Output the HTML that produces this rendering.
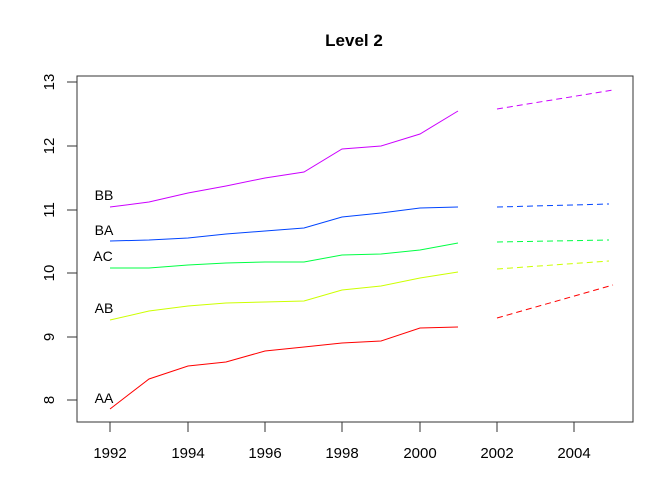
<!DOCTYPE html>
<html><head><style>body{margin:0;background:#fff}svg{display:block}</style></head><body>
<svg width="672" height="480" xmlns="http://www.w3.org/2000/svg" font-family="Liberation Sans, Arial, sans-serif">
<rect width="672" height="480" fill="#fff"/>
<text x="354" y="46" font-size="17" font-weight="bold" text-anchor="middle">Level 2</text>
<rect x="77" y="76" width="556" height="346" fill="none" stroke="#333" stroke-width="1"/>
<g stroke="#333" stroke-width="1">
<line x1="110" y1="422" x2="110" y2="432"/><line x1="188" y1="422" x2="188" y2="432"/><line x1="265" y1="422" x2="265" y2="432"/><line x1="342" y1="422" x2="342" y2="432"/><line x1="420" y1="422" x2="420" y2="432"/><line x1="497" y1="422" x2="497" y2="432"/><line x1="574" y1="422" x2="574" y2="432"/>
<line x1="67" y1="82" x2="77" y2="82"/><line x1="67" y1="146" x2="77" y2="146"/><line x1="67" y1="210" x2="77" y2="210"/><line x1="67" y1="273" x2="77" y2="273"/><line x1="67" y1="337" x2="77" y2="337"/><line x1="67" y1="400" x2="77" y2="400"/>
</g>
<g font-size="15" text-anchor="middle">
<text x="110" y="458">1992</text><text x="188" y="458">1994</text><text x="265" y="458">1996</text><text x="342" y="458">1998</text><text x="420" y="458">2000</text><text x="497" y="458">2002</text><text x="574" y="458">2004</text>
<text transform="translate(54,82) rotate(-90)">13</text>
<text transform="translate(54,146) rotate(-90)">12</text>
<text transform="translate(54,210) rotate(-90)">11</text>
<text transform="translate(54,273) rotate(-90)">10</text>
<text transform="translate(54,337) rotate(-90)">9</text>
<text transform="translate(54,400) rotate(-90)">8</text>
</g>
<g fill="none" stroke-width="1">
<polyline stroke="#cc00ff" points="110,207 149,202 188,193 226,186 265,178 304,172 342,149 381,146 420,134 458,111"/>
<polyline stroke="#0044ff" points="110,241 149,240 188,238 226,234 265,231 304,228 342,217 381,213 420,208 458,207"/>
<polyline stroke="#00ff44" points="110,268 149,268 188,265 226,263 265,262 304,262 342,255 381,254 420,250 458,243"/>
<polyline stroke="#ccff00" points="110,320 149,311 188,306 226,303 265,302 304,301 342,290 381,286 420,278 458,272"/>
<polyline stroke="#ff0000" points="110,409 149,379 188,366 226,362 265,351 304,347 342,343 381,341 420,328 458,327"/>
<g stroke-dasharray="6,4">
<line stroke="#cc00ff" x1="497" y1="109" x2="613" y2="90"/>
<line stroke="#0044ff" x1="497" y1="207" x2="609" y2="204"/>
<line stroke="#00ff44" x1="497" y1="242" x2="609" y2="240"/>
<line stroke="#ccff00" x1="497" y1="269" x2="609" y2="261"/>
<line stroke="#ff0000" x1="497" y1="318" x2="613" y2="285"/>
</g>
</g>
<g font-size="14" text-anchor="middle">
<text x="104" y="200">BB</text><text x="104" y="235">BA</text><text x="103" y="261">AC</text><text x="104" y="313">AB</text><text x="104" y="403">AA</text>
</g>
</svg>
</body></html>
